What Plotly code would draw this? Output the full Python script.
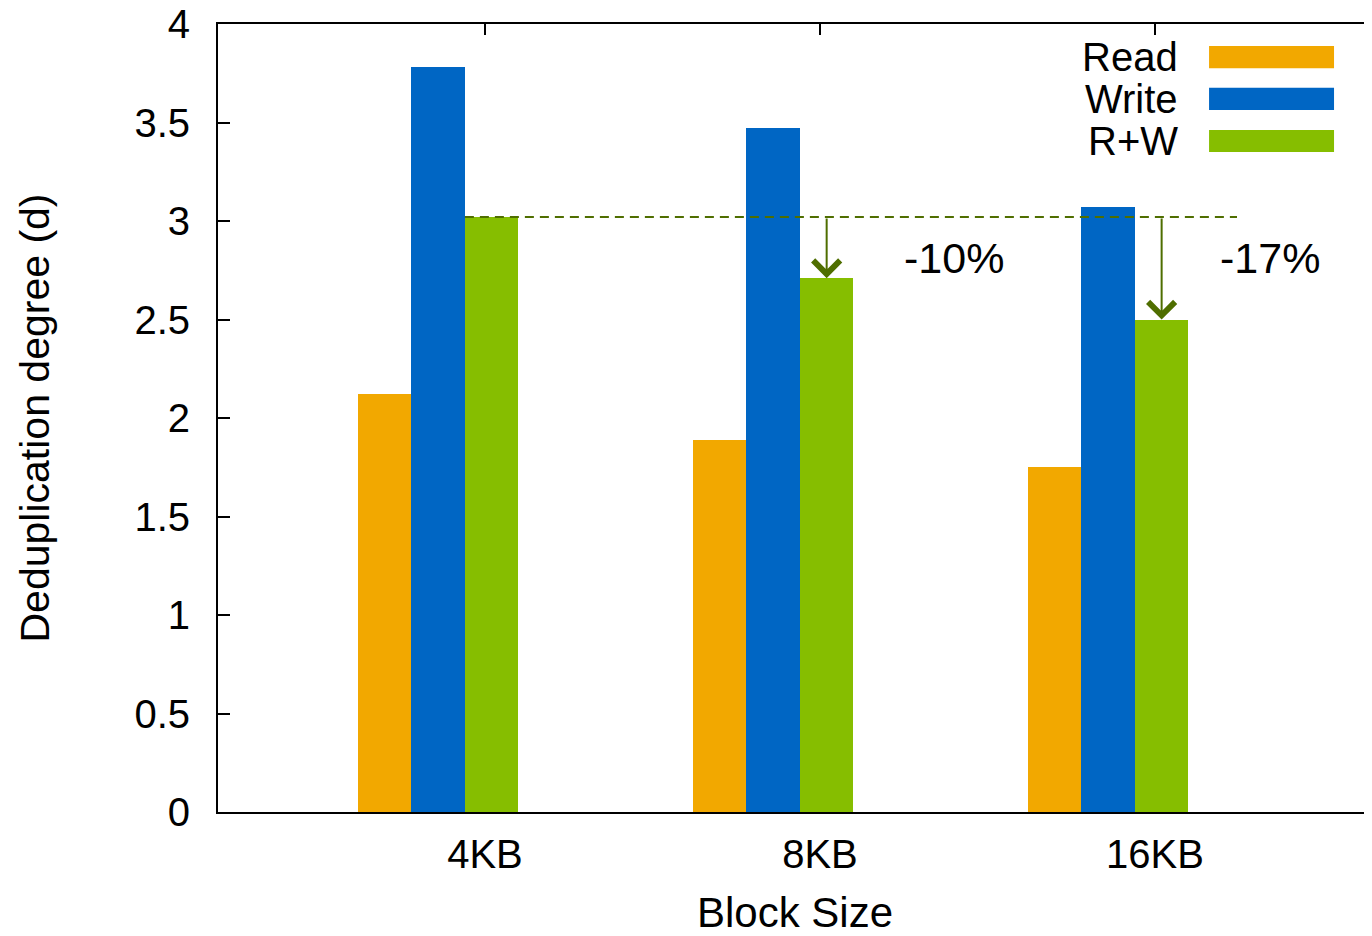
import plotly.graph_objects as go

# ---- data ----
categories = ["4KB", "8KB", "16KB"]
read_vals = [2.12, 1.89, 1.75]
write_vals = [3.78, 3.47, 3.07]
rw_vals = [3.02, 2.71, 2.50]
series_names = ["Read", "Write", "R+W"]
drop_labels = ["-10%", "-17%"]
y_tickvals = [0, 0.5, 1, 1.5, 2, 2.5, 3, 3.5, 4]
y_ticktext = ["0", "0.5", "1", "1.5", "2", "2.5", "3", "3.5", "4"]

# ---- style ----
colors = ["#F2A800", "#0066C4", "#86BE00"]
olive = "#4F6E00"
FONT = "Liberation Sans, Arial, Helvetica, sans-serif"
bar_w = 0.16
offsets = [-0.38, -0.22, -0.06]
xpos = list(range(len(categories)))

fig = go.Figure()
for name, vals, col, off in zip(series_names, [read_vals, write_vals, rw_vals], colors, offsets):
    fig.add_trace(go.Bar(
        x=xpos, y=vals, name=name, width=bar_w, offset=off,
        marker=dict(color=col, line=dict(width=0)),
        showlegend=False,
    ))

# dashed reference line at the 4KB R+W level (on the top x axis so it exists)
base = rw_vals[0]
fig.add_trace(go.Scatter(
    x=[xpos[0] + offsets[2], xpos[2] + 0.245], y=[base, base],
    mode="lines", line=dict(color=olive, width=2, dash="9px,6px"),
    xaxis="x2", yaxis="y", showlegend=False, hoverinfo="skip",
))

annotations = []
label_pos = [(0.40, 2.81), (0.343, 2.81)]
for i, k in enumerate([1, 2]):
    xc = xpos[k] + offsets[2] + bar_w / 2
    annotations.append(dict(
        x=xc, y=rw_vals[k], xref="x", yref="y",
        ax=xc, ay=base, axref="x", ayref="y",
        showarrow=True, arrowhead=4, arrowsize=2.6, arrowwidth=2,
        arrowcolor=olive, text="", standoff=0,
    ))
    annotations.append(dict(
        x=xpos[k] + label_pos[i][0], y=label_pos[i][1], xref="x", yref="y",
        text=drop_labels[i], showarrow=False,
        font=dict(family=FONT, size=43, color="black"),
        xanchor="center", yanchor="middle",
    ))

# manual legend (text left, long swatch right)
shapes = []
legend_y = [0.958, 0.905, 0.8515]
for name, col, ly in zip(series_names, colors, legend_y):
    annotations.append(dict(
        x=0.8336, y=ly, xref="paper", yref="paper", text=name,
        showarrow=False, xanchor="right", yanchor="middle",
        font=dict(family=FONT, size=40, color="black"),
    ))
    shapes.append(dict(
        type="rect", xref="paper", yref="paper",
        x0=0.8588, x1=0.9671, y0=ly - 0.014, y1=ly + 0.014,
        fillcolor=col, line=dict(width=0),
    ))

fig.update_layout(
    width=1364, height=928,
    margin=dict(l=210, r=0, t=16, b=124, autoexpand=False),
    paper_bgcolor="white", plot_bgcolor="white",
    font=dict(family=FONT, size=40, color="black"),
    bargap=0,
    xaxis=dict(
        range=[-0.797, 2.648], tickvals=xpos, ticktext=categories,
        ticks="", showline=True, linecolor="black", linewidth=2,
        showgrid=False, zeroline=False, automargin=False,
        tickfont=dict(family=FONT, size=40, color="black"),
        ticklabelstandoff=6,
        title=dict(text="Block Size", font=dict(family=FONT, size=42, color="black"), standoff=29),
    ),
    xaxis2=dict(
        overlaying="x", matches="x", side="top", anchor="y",
        tickvals=xpos, showticklabels=False, ticks="inside", ticklen=11,
        tickwidth=2, tickcolor="black", automargin=False,
        showline=True, linecolor="black", linewidth=2,
        showgrid=False, zeroline=False,
    ),
    yaxis=dict(
        range=[0, 4], tickvals=y_tickvals, ticktext=y_ticktext,
        ticks="inside", ticklen=12, tickwidth=2, tickcolor="black",
        showline=True, linecolor="black", linewidth=2,
        showgrid=False, zeroline=False, automargin=False,
        tickfont=dict(family=FONT, size=40, color="black"),
        ticklabelstandoff=18, ticklabeloverflow="allow",
        title=dict(text="Deduplication degree (d)", font=dict(family=FONT, size=41, color="black"), standoff=72),
    ),
    annotations=annotations,
    shapes=shapes,
)

fig.write_html("out.html")
